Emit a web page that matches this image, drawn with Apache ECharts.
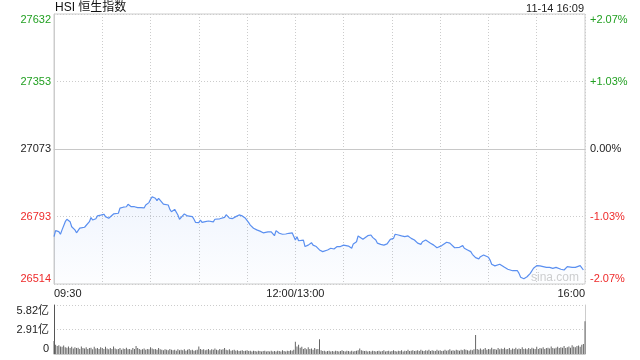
<!DOCTYPE html>
<html><head><meta charset="utf-8">
<script src="https://cdn.jsdelivr.net/npm/echarts@6/dist/echarts.min.js"></script>
<style>html,body{margin:0;padding:0;background:#fff}#c{width:640px;height:360px}</style>
</head><body><div id="c"></div>
<script>
// trading minutes since 09:30 (12:00 and 13:00 share minute 150)
const minutes = [0,1,3,4,5,7,8,10,11,12,13,14,16,17,19,20,22,23,24,26,27,29,30,31,32,34,35,37,38,40,41,43,44,45,46,48,50,52,54,56,57,59,60,61,63,64,65,66,68,69,71,72,73,74,75,77,78,79,81,82,83,84,86,87,88,90,91,92,94,96,97,99,100,101,103,104,106,107,108,109,111,113,115,117,119,121,122,124,126,128,130,131,133,135,137,138,140,142,144,146,148,149,150,151,152,153,155,156,158,160,161,163,165,167,168,170,172,174,176,178,180,181,183,185,186,188,189,190,192,193,195,197,198,200,201,203,205,207,209,210,211,212,214,216,218,220,222,224,226,228,229,231,232,234,236,238,239,241,242,244,246,247,249,250,252,254,255,257,259,260,262,264,265,267,268,270,271,272,274,275,277,278,280,282,285,288,289,290,292,294,296,298,300,302,304,306,308,310,312,315,317,318,319,320,322,324,325,327,328,329];
const prices = [26710,26735,26731,26720,26738,26772,26782,26772,26751,26749,26738,26726,26745,26740,26749,26747,26772,26789,26779,26784,26796,26799,26796,26803,26793,26786,26793,26804,26807,26807,26828,26832,26832,26834,26844,26834,26834,26830,26830,26829,26841,26851,26865,26875,26869,26859,26869,26865,26845,26844,26841,26823,26813,26809,26823,26800,26782,26786,26804,26809,26796,26793,26793,26782,26769,26768,26779,26769,26772,26775,26768,26771,26782,26787,26784,26782,26790,26801,26798,26787,26785,26793,26800,26796,26786,26768,26758,26745,26738,26733,26726,26729,26730,26730,26714,26735,26724,26720,26721,26724,26726,26724,26696,26710,26693,26699,26696,26669,26675,26685,26675,26669,26655,26648,26641,26655,26662,26659,26669,26669,26675,26671,26671,26662,26680,26689,26713,26707,26699,26703,26714,26717,26707,26696,26683,26678,26675,26680,26699,26707,26703,26720,26717,26713,26710,26713,26703,26696,26683,26678,26689,26696,26689,26683,26675,26664,26662,26673,26678,26687,26683,26675,26664,26664,26666,26673,26662,26655,26648,26637,26623,26618,26627,26634,26631,26625,26613,26596,26589,26593,26596,26593,26583,26575,26569,26569,26558,26542,26536,26544,26558,26579,26590,26589,26586,26583,26583,26579,26583,26575,26572,26575,26586,26579,26583,26583,26586,26590,26586,26572];
// volume per minute, in 亿
const volumes = [1.54,1.1,0.95,1.05,0.9,0.85,1.0,0.8,0.75,0.9,0.7,0.85,0.65,0.8,0.7,0.75,0.6,0.9,0.7,0.65,0.8,0.6,0.7,0.75,0.55,0.85,0.65,0.7,0.6,0.8,
0.7,0.6,0.85,0.65,0.55,0.7,0.6,0.9,0.65,0.55,0.6,0.7,0.5,0.65,0.6,0.75,0.55,0.6,0.5,0.7,0.6,0.95,0.7,0.6,0.5,0.55,0.65,0.5,0.6,0.55,
0.8,0.65,0.55,0.6,0.5,0.7,0.55,0.5,0.45,0.55,0.5,0.45,0.6,0.5,0.45,0.5,0.4,0.55,0.45,0.5,0.45,0.55,0.4,0.5,0.6,0.45,0.5,0.4,0.45,0.5,
0.9,0.6,0.5,0.55,0.45,0.5,0.6,0.45,0.55,0.5,0.65,0.5,0.45,0.6,0.5,0.55,0.7,0.5,0.45,0.55,0.4,0.45,0.5,0.4,0.45,0.35,0.4,0.45,0.35,0.4,
0.45,0.35,0.4,0.3,0.4,0.35,0.3,0.4,0.35,0.3,0.35,0.4,0.3,0.35,0.3,0.4,0.3,0.35,0.3,0.4,0.35,0.3,0.45,0.35,0.3,0.4,0.35,0.45,0.4,0.5,
1.45,0.9,1.1,0.75,0.85,0.6,0.7,0.55,0.8,0.6,0.65,0.5,0.7,0.55,0.6,1.75,
0.45,0.35,0.4,0.3,0.35,0.4,0.3,0.35,0.3,0.4,0.35,0.3,0.35,0.45,0.35,0.3,0.4,0.35,0.3,0.4,0.3,0.35,0.4,0.45,0.65,0.45,0.4,0.35,0.4,0.3,
0.35,0.3,0.4,0.35,0.3,0.35,0.4,0.3,0.35,0.45,0.3,0.35,0.4,0.3,0.35,0.45,0.35,0.3,0.4,0.35,0.45,0.3,0.4,0.35,0.5,0.35,0.4,0.45,0.35,0.4,
0.45,0.35,0.5,0.4,0.35,0.45,0.4,0.5,0.35,0.45,0.4,0.35,0.5,0.4,0.45,0.35,0.4,0.5,0.4,0.45,0.55,0.4,0.45,0.4,0.5,0.45,0.4,0.5,0.45,0.55,
0.5,0.45,0.4,0.5,0.45,0.55,2.25,0.6,0.5,0.65,0.5,0.55,0.7,0.5,0.6,0.55,0.75,0.55,0.6,0.5,0.7,0.55,0.65,0.6,0.75,0.55,0.6,0.7,0.5,0.65,
0.6,0.75,0.55,0.65,0.6,0.8,0.6,0.65,0.55,0.7,0.6,0.75,0.65,0.6,0.85,0.6,0.7,0.65,0.8,0.6,0.7,0.75,0.65,0.9,0.7,0.65,0.75,0.85,0.7,0.8,
0.75,0.95,0.7,0.8,0.9,0.75,1.05,0.85,0.8,0.95,1.0,0.85,1.1,1.2,3.9];
const prevClose = 27073;
const priceMin = 26514, priceMax = 27632;
const leftTicks = ['26514','26793','27073','27353','27632'];
const rightTicks = ['-2.07%','-1.03%','0.00%','+1.03%','+2.07%'];
const xTicks = {0:'09:30',150:'12:00/13:00',330:'16:00'};
const volTicks = ['0','2.91亿','5.82亿'];
const volMax = 5.82;
const title = 'HSI 恒生指数';
const stamp = '11-14 16:09';

const GREEN = '#22a022', RED = '#ee2a2a', BLACK = '#222';
const tickColor = i => i > 2 ? GREEN : (i < 2 ? RED : BLACK);
const FONT = '"Liberation Sans", Arial, "Noto Sans CJK SC", sans-serif';

const chart = echarts.init(document.getElementById('c'), null, {renderer: 'canvas'});
const unitAxis = (pos) => ({
  type: 'value', gridIndex: 0, position: pos, min: -2, max: 2, interval: 1,
  axisLine: {show: pos === 'left', lineStyle: {color: '#ccc'}},
  axisTick: {show: false},
  splitLine: {show: pos === 'left', lineStyle: {color: '#ccc', type: [1, 2]}},
  axisLabel: {
    fontSize: 11, fontFamily: FONT,
    margin: pos === 'left' ? 3 : 5,
    formatter: (v) => (pos === 'left' ? leftTicks : rightTicks)[Math.round(v) + 2],
    color: (v) => tickColor(Math.round(v) + 2),
    verticalAlignMinLabel: 'bottom', verticalAlignMaxLabel: 'top'
  }
});
chart.setOption({
  animation: false,
  backgroundColor: '#fff',
  textStyle: {fontFamily: FONT},
  title: [
    {text: title, left: 55, top: 2, padding: 0, textStyle: {fontSize: 12, fontWeight: 'normal', color: '#111', fontFamily: FONT}},
    {text: stamp, right: 56, top: 3, padding: 0, textStyle: {fontSize: 11, fontWeight: 'normal', color: '#222', fontFamily: FONT}}
  ],
  graphic: [{type: 'text', left: 531, top: 272, style: {text: 'sina.com', fill: '#cfcfcf', fontSize: 12, fontFamily: FONT}}],
  grid: [
    {left: 54, right: 55, top: 14, height: 270, show: true, borderColor: '#ccc', borderWidth: 1},
    {left: 54, right: 55, top: 305, height: 49}
  ],
  xAxis: [
    {type: 'value', gridIndex: 0, min: 0, max: 330, interval: 30,
     axisLine: {lineStyle: {color: '#ccc'}}, axisTick: {show: false},
     splitLine: {show: true, lineStyle: {color: '#ccc', type: [1, 2]}},
     axisLabel: {fontSize: 11, color: '#222', margin: 4, fontFamily: FONT,
       formatter: v => xTicks[v] || '', alignMinLabel: 'left', alignMaxLabel: 'right'}},
    {type: 'value', gridIndex: 1, min: 0, max: 330,
     axisLine: {lineStyle: {color: '#ccc'}}, axisTick: {show: false},
     splitLine: {show: false}, axisLabel: {show: false}}
  ],
  yAxis: [
    {type: 'value', gridIndex: 0, min: priceMin, max: priceMax, show: false, splitLine: {show: false}},
    unitAxis('left'),
    unitAxis('right'),
    {type: 'value', gridIndex: 1, min: 0, max: volMax, interval: volMax / 2,
     axisLine: {show: true, lineStyle: {color: '#555'}}, axisTick: {show: false},
     splitLine: {show: true, lineStyle: {color: '#ccc', type: [1, 2]}},
     axisLabel: {fontSize: 11, color: '#222', margin: 5, fontFamily: FONT,
       formatter: (v) => volTicks[Math.round(v / (volMax / 2))],
       verticalAlignMinLabel: 'bottom', verticalAlignMaxLabel: 'top'}},
    {type: 'value', gridIndex: 1, position: 'right', min: 0, max: volMax,
     axisLine: {show: true, lineStyle: {color: '#ccc'}}, axisTick: {show: false},
     axisLabel: {show: false}, splitLine: {show: false}}
  ],
  series: [
    {type: 'line', xAxisIndex: 0, yAxisIndex: 0, symbol: 'none',
     data: minutes.map((m, i) => [m, prices[i]]),
     lineStyle: {color: '#5a8ff0', width: 1.2},
     areaStyle: {origin: 'start', color: new echarts.graphic.LinearGradient(0, 0, 0, 1, [
       {offset: 0, color: 'rgba(90,143,240,0.13)'}, {offset: 1, color: 'rgba(90,143,240,0.02)'}])},
     markLine: {silent: true, symbol: 'none', label: {show: false},
       lineStyle: {color: '#c8c8c8', type: 'solid', width: 1},
       data: [{yAxis: prevClose}]}},
    {type: 'bar', xAxisIndex: 1, yAxisIndex: 3, barWidth: 1,
     data: volumes.map((v, i) => [i, v]),
     itemStyle: {color: '#666'}}
  ]
});
</script></body></html>
